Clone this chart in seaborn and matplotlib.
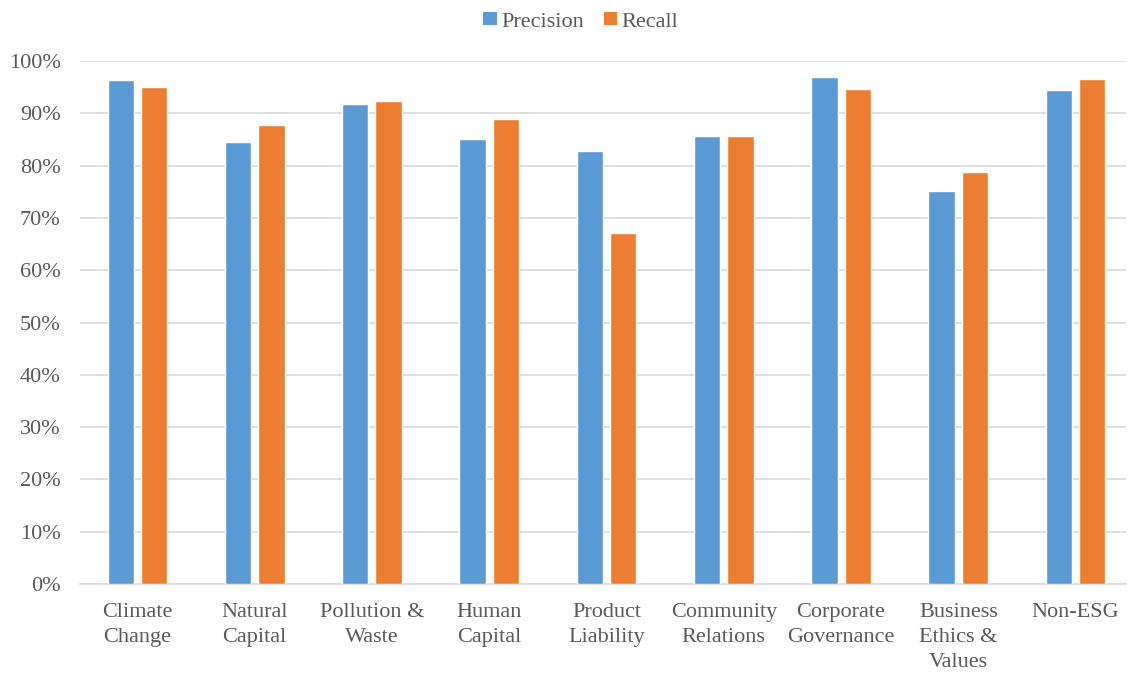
import matplotlib
matplotlib.use("Agg")
import matplotlib.pyplot as plt
from matplotlib.patches import Patch
from matplotlib.ticker import FuncFormatter
import seaborn as sns
import pandas as pd

categories = ["Climate\nChange", "Natural\nCapital", "Pollution &\nWaste", "Human\nCapital",
              "Product\nLiability", "Community\nRelations", "Corporate\nGovernance",
              "Business\nEthics &\nValues", "Non-ESG"]
precision = [0.963, 0.845, 0.918, 0.850, 0.827, 0.856, 0.969, 0.751, 0.944]
recall = [0.950, 0.878, 0.924, 0.889, 0.672, 0.856, 0.946, 0.788, 0.965]
series = ["Precision", "Recall"]
colors = ["#5B9BD5", "#ED7D31"]
yticks = [0.0, 0.1, 0.2, 0.3, 0.4, 0.5, 0.6, 0.7, 0.8, 0.9, 1.0]

df = pd.DataFrame({
    "category": categories * 2,
    "series": [series[0]] * len(categories) + [series[1]] * len(categories),
    "value": precision + recall,
})

sns.set_theme(style="white")
plt.rcParams["font.family"] = ["Liberation Serif", "DejaVu Serif"]
text_color = "#595959"

W, H = 1129, 673
fig = plt.figure(figsize=(W / 100, H / 100), dpi=100)
left, right, top, bottom = 80, 1126, 61, 584
ax = fig.add_axes([left / W, 1 - bottom / H, (right - left) / W, (bottom - top) / H])

sns.barplot(data=df, x="category", y="value", hue="series", palette=colors,
            width=0.57, gap=0.21, ax=ax, legend=False, saturation=1, zorder=3)

ax.set_xlim(-0.49, 8.43)
ax.set_ylim(0, 1.0)
ax.set_yticks(yticks)
ax.yaxis.set_major_formatter(FuncFormatter(lambda v, p: f"{v*100:.0f}%"))
ax.grid(axis="y", color="#D9D9D9", linewidth=1.2, zorder=0)
ax.grid(axis="x", visible=False)
for s in ["top", "right", "left"]:
    ax.spines[s].set_visible(False)
ax.spines["bottom"].set_color("#D9D9D9")
ax.spines["bottom"].set_linewidth(1.2)
ax.set_xlabel("")
ax.set_ylabel("")
ax.tick_params(axis="y", length=0, pad=14, labelsize=16, labelcolor=text_color)
ax.tick_params(axis="x", length=0, pad=14, labelsize=16, labelcolor=text_color)
for lbl in ax.get_xticklabels():
    lbl.set_linespacing(1.4)

handles = [Patch(facecolor=c, edgecolor="none") for c in colors]
fig.legend(handles, series, loc="center", bbox_to_anchor=(581 / W, 1 - 22 / H),
           ncol=2, frameon=False, fontsize=16, handlelength=0.6, handleheight=0.5,
           handletextpad=0.2, columnspacing=0.9, labelcolor=text_color)

fig.savefig("out.png", dpi=100)
